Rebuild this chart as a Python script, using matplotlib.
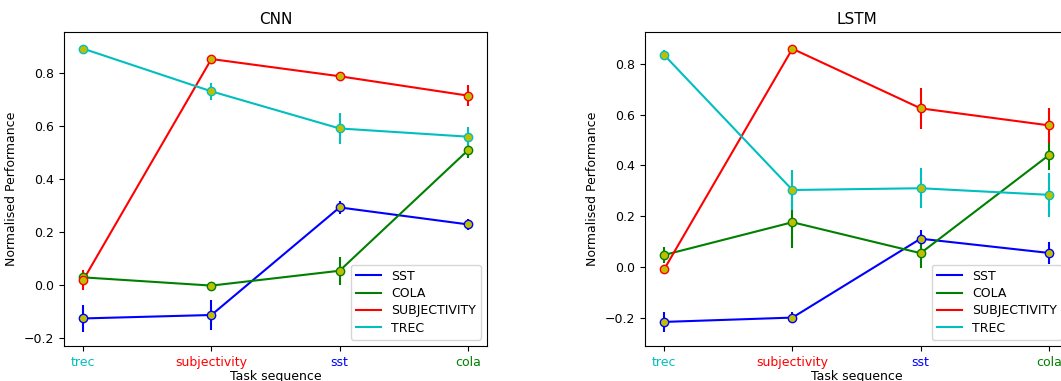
import matplotlib.pyplot as plt

tasks = ['trec', 'subjectivity', 'sst', 'cola']
task_colors = ['c', 'r', 'b', 'g']
series = ['SST', 'COLA', 'SUBJECTIVITY', 'TREC']
series_colors = ['b', 'g', 'r', 'c']

# CNN
cnn_mean = [
    [-0.125, -0.112, 0.294, 0.230],
    [0.030, -0.001, 0.055, 0.509],
    [0.020, 0.854, 0.789, 0.716],
    [0.893, 0.732, 0.592, 0.561],
]
cnn_err = [
    [0.050, 0.057, 0.024, 0.022],
    [0.020, 0.006, 0.053, 0.030],
    [0.036, 0.008, 0.008, 0.040],
    [0.008, 0.033, 0.060, 0.038],
]

# LSTM
lstm_mean = [
    [-0.217, -0.200, 0.111, 0.055],
    [0.047, 0.176, 0.054, 0.440],
    [-0.009, 0.860, 0.625, 0.558],
    [0.835, 0.303, 0.310, 0.284],
]
lstm_err = [
    [0.039, 0.022, 0.033, 0.043],
    [0.033, 0.100, 0.060, 0.060],
    [0.010, 0.008, 0.080, 0.070],
    [0.020, 0.080, 0.078, 0.087],
]

W, H = 1061, 381
fig = plt.figure(figsize=(W / 100, H / 100), dpi=100)
ax1 = fig.add_axes([64 / W, 35 / H, 423 / W, 314 / H])
ax2 = fig.add_axes([645 / W, 35 / H, 423 / W, 314 / H])


def draw(ax, means, errs, title, ylim):
    x = list(range(len(tasks)))
    for name, col, m, e in zip(series, series_colors, means, errs):
        ax.plot(x, m, color=col, label=name)
        ax.errorbar(x, m, yerr=e, color=col, fmt='o', markersize=6,
                    markerfacecolor='y', markeredgecolor=col)
    ax.set_xticks(x)
    ax.set_xticklabels(tasks)
    for lbl, c in zip(ax.get_xticklabels(), task_colors):
        lbl.set_color(c)
    ax.set_xlim(-0.15, 3.15)
    ax.set_ylim(*ylim)
    ax.set_title(title, fontsize=11)
    ax.set_xlabel('Task sequence', fontsize=9, labelpad=1)
    ax.set_ylabel('Normalised Performance', fontsize=9)
    ax.tick_params(labelsize=9)
    ax.legend(loc='lower right', fontsize=9, labelspacing=0.35)


draw(ax1, cnn_mean, cnn_err, 'CNN', (-0.229, 0.956))
draw(ax2, lstm_mean, lstm_err, 'LSTM', (-0.312, 0.926))

fig.savefig('out.png', dpi=100)
